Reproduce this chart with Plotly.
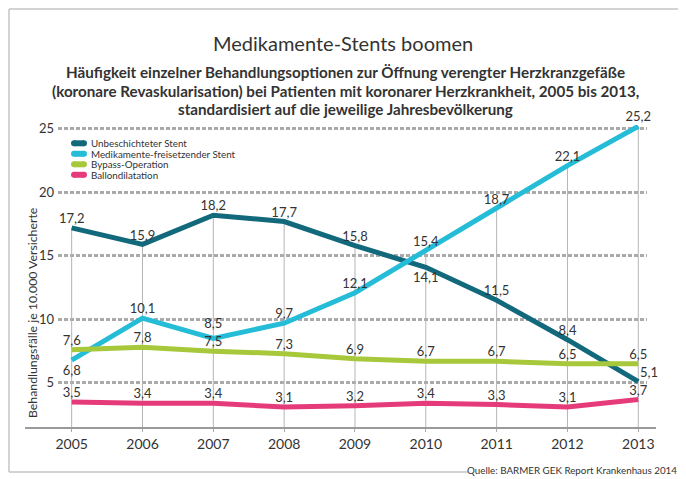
import plotly.graph_objects as go

# data (Behandlungsfälle je 10.000 Versicherte)
years = [2005, 2006, 2007, 2008, 2009, 2010, 2011, 2012, 2013]
unbeschichtet = [17.2, 15.9, 18.2, 17.7, 15.8, 14.1, 11.5, 8.4, 5.1]
medikamente = [6.8, 10.1, 8.5, 9.7, 12.1, 15.4, 18.7, 22.1, 25.2]
bypass = [7.6, 7.8, 7.5, 7.3, 6.9, 6.7, 6.7, 6.5, 6.5]
ballon = [3.5, 3.4, 3.4, 3.1, 3.2, 3.4, 3.3, 3.1, 3.7]

names = ["Unbeschichteter Stent", "Medikamente-freisetzender Stent",
         "Bypass-Operation", "Ballondilatation"]
colors = ["#12697b", "#25bcd7", "#a7c83b", "#e63b7b"]

# where the value labels sit (and how far from the line)
pos_unb = ["top center"] * 5 + ["bottom center", "top center", "top center", "top right"]
pos_med = ["bottom center"] + ["top center"] * 8
pos_top = ["top center"] * 9
gap_unb = [1, 1, 1, 1, 1, 6, 1, 1, 1]
gap_med = [6, 1, 10, 1, 1, 1, 1, 1, 1]

# plot area in pixels of the page (the page body adds an 8px margin)
OFF = 8
L, R, T, B = 58, 647, 125, 428
W, H = R - L, B - T
def px_x(p):
    return (p - L) / W
def px_y(p):
    return (B - p) / H

ymin = 1.45

fig = go.Figure()

# thin vertical drop lines from the axis up to the highest value of each year
top_vals = [max(v) for v in zip(unbeschichtet, medikamente, bypass, ballon)]
dx, dy = [], []
for yr, v in zip(years, top_vals):
    dx += [yr, yr, None]
    dy += [ymin, v, None]
fig.add_trace(go.Scatter(x=dx, y=dy, mode="lines", line=dict(color="#b5b5b5", width=1),
                         hoverinfo="skip", showlegend=False))

series = [(unbeschichtet, pos_unb, gap_unb), (medikamente, pos_med, gap_med),
          (bypass, pos_top, 1), (ballon, pos_top, 1)]
for (vals, pos, gap), name, col in zip(series, names, colors):
    fig.add_trace(go.Scatter(
        x=years, y=vals, name=name, mode="lines+markers+text",
        line=dict(color=col, width=5),
        marker=dict(size=gap, color=col, opacity=0),
        text=[f"{v:.1f}".replace(".", ",") for v in vals],
        textposition=pos,
        textfont=dict(size=13, color="#333333"),
        cliponaxis=False,
        showlegend=False))

shapes = []
# frame round the graphic, open at the bottom right for the source line
fc = dict(color="#c4c4c4", width=1.5)
fl, ft = OFF + 1, OFF + 1
shapes.append(dict(type="line", xref="paper", yref="paper", x0=px_x(fl), x1=px_x(680), y0=px_y(ft), y1=px_y(ft), line=fc))
shapes.append(dict(type="line", xref="paper", yref="paper", x0=px_x(fl), x1=px_x(fl), y0=px_y(ft), y1=px_y(472), line=fc))
shapes.append(dict(type="line", xref="paper", yref="paper", x0=px_x(fl), x1=px_x(468), y0=px_y(472), y1=px_y(472), line=fc))
shapes.append(dict(type="line", xref="paper", yref="paper", x0=px_x(680), x1=px_x(680), y0=px_y(ft), y1=px_y(457), line=fc))
# bottom axis line, wider than the plot area
shapes.append(dict(type="line", xref="paper", yref="paper", x0=px_x(25), x1=px_x(656), y0=0, y1=0,
                   line=dict(color="#9a9a9a", width=2)))

annotations = []
# legend drawn by hand so the rows can sit close together
legend_rows = [143.3, 153.8, 164.3, 174.8]
for yy, name, col in zip(legend_rows, names, colors):
    shapes.append(dict(type="rect", xref="paper", yref="paper", x0=px_x(74), x1=px_x(84),
                       y0=px_y(yy + 3), y1=px_y(yy - 3), fillcolor=col, line=dict(width=0)))
    for cx in (74, 84):
        shapes.append(dict(type="circle", xref="paper", yref="paper", x0=px_x(cx - 3), x1=px_x(cx + 3),
                           y0=px_y(yy + 3), y1=px_y(yy - 3), fillcolor=col, line=dict(width=0)))
    annotations.append(dict(xref="paper", yref="paper", x=px_x(90), y=px_y(yy), text=name,
                            xanchor="left", yanchor="middle", showarrow=False, borderpad=0,
                            font=dict(size=9.8, color="#333333")))

annotations.append(dict(xref="paper", yref="paper", x=px_x(343), y=px_y(43),
                        text="Medikamente-Stents boomen", showarrow=False,
                        xanchor="center", yanchor="middle", font=dict(size=20, color="#333333")))
subtitle = ["Häufigkeit einzelner Behandlungsoptionen zur Öffnung verengter Herzkranzgefäße",
            "(koronare Revaskularisation) bei Patienten mit koronarer Herzkrankheit, 2005 bis 2013,",
            "standardisiert auf die jeweilige Jahresbevölkerung"]
for yy, line in zip([72, 91, 109], subtitle):
    annotations.append(dict(xref="paper", yref="paper", x=px_x(345), y=px_y(yy),
                            text="<b>" + line + "</b>", showarrow=False,
                            xanchor="center", yanchor="middle", font=dict(size=15.2, color="#333333")))
annotations.append(dict(xref="paper", yref="paper", x=px_x(32), y=px_y(313),
                        text="Behandlungsfälle je 10.000 Versicherte", textangle=-90, showarrow=False,
                        xanchor="center", yanchor="middle", font=dict(size=12.3, color="#333333")))
annotations.append(dict(xref="paper", yref="paper", x=px_x(679), y=px_y(470),
                        text="Quelle: BARMER GEK Report Krankenhaus 2014", showarrow=False,
                        xanchor="right", yanchor="middle", font=dict(size=9.8, color="#333333")))

fig.update_layout(
    width=686 - OFF, height=479 - OFF,
    margin=dict(l=L - OFF, r=686 - R, t=T - OFF, b=479 - B),
    paper_bgcolor="white", plot_bgcolor="white",
    font=dict(family="Lato", color="#333333"),
    shapes=shapes, annotations=annotations,
    showlegend=False,
)
fig.update_xaxes(range=[2004.807, 2013.123], tickvals=years, showgrid=False, zeroline=False,
                 showline=False, ticks="outside", ticklen=3, tickcolor="#aaaaaa", tickwidth=1,
                 tickfont=dict(size=14, color="#333333"))
fig.update_yaxes(range=[ymin, 25.3], tickvals=[5, 10, 15, 20, 25], showgrid=True,
                 gridcolor="#aaaaaa", gridwidth=2.5, griddash="4px,2px", zeroline=False,
                 showline=False, ticks="", ticklabelstandoff=3,
                 tickfont=dict(size=13, color="#333333"))

fig.write_html("out.html")
